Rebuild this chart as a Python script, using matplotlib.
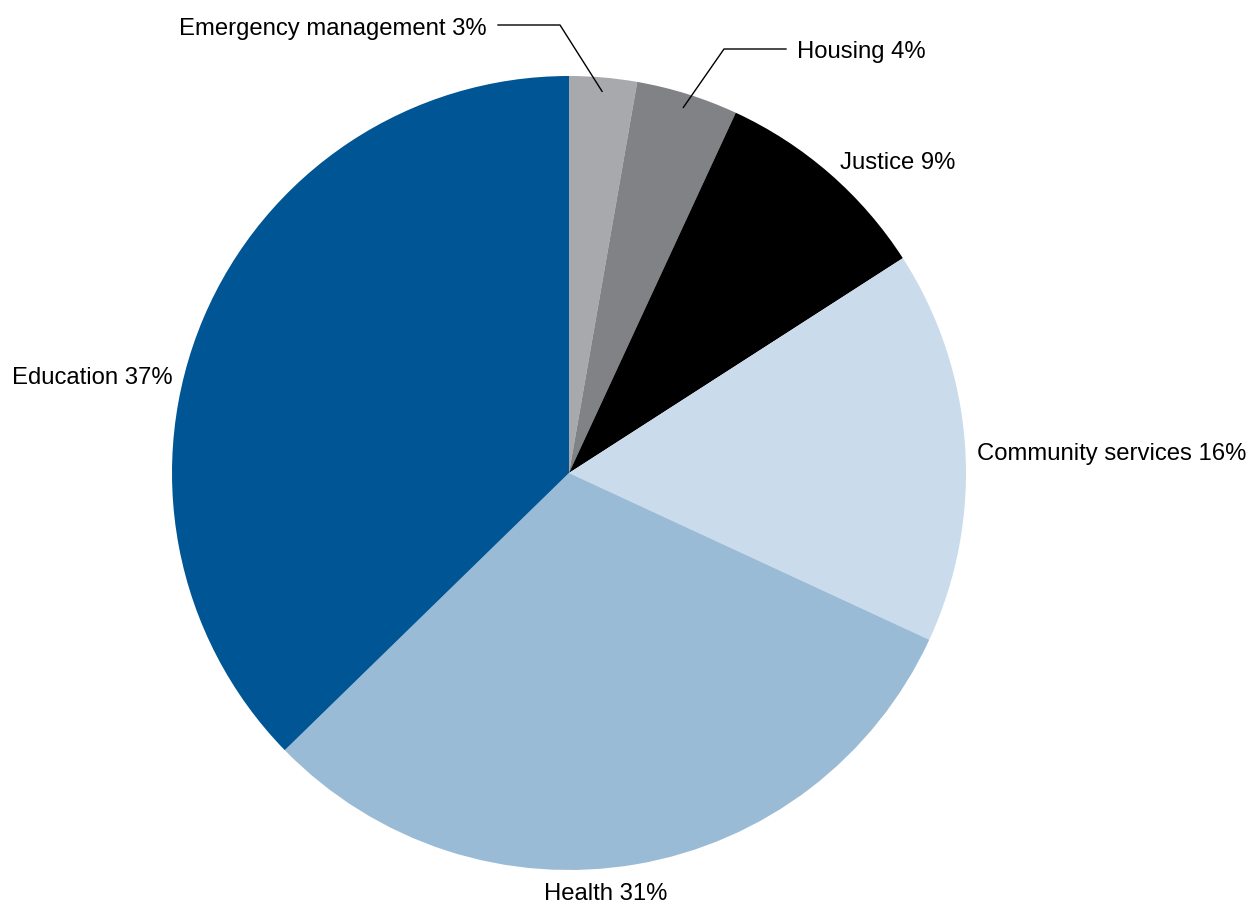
import numpy as np
import matplotlib.pyplot as plt

plt.rcParams['font.family'] = ['Liberation Sans', 'DejaVu Sans']

labels = ['Emergency management 3%', 'Housing 4%', 'Justice 9%',
          'Community services 16%', 'Health 31%', 'Education 37%']
values = [2.75, 4.15, 9.0, 16.0, 30.8, 37.3]
colors = ['#a7a9ac', '#808285', '#000000', '#cadceb', '#9abbd6', '#005595']

W, H = 1250, 905
cx, cy, R = 569, H - 473, 397

fig = plt.figure(figsize=(W / 100, H / 100), dpi=100)
ax = fig.add_axes([0, 0, 1, 1])
wedges, _ = ax.pie(values, colors=colors, startangle=90, counterclock=False,
                   center=(cx, cy), radius=R,
                   wedgeprops=dict(linewidth=0))
ax.set_xlim(0, W)
ax.set_ylim(0, H)
ax.set_aspect('equal')
ax.axis('off')

fs = 17.2
# labels placed directly
ax.text(12, H - 378, labels[5], fontsize=fs, ha='left', va='center')
ax.text(544, H - 894, labels[4], fontsize=fs, ha='left', va='center')
ax.text(977, H - 454, labels[3], fontsize=fs, ha='left', va='center')
ax.text(840, H - 163, labels[2], fontsize=fs, ha='left', va='center')

# labels with leader lines
def wedge_point(w, frac=0.965):
    a = np.deg2rad((w.theta1 + w.theta2) / 2)
    return cx + frac * R * np.cos(a), cy + frac * R * np.sin(a)

ax.text(487, H - 29, labels[0], fontsize=fs, ha='right', va='center')
px, py = wedge_point(wedges[0])
ax.plot([498, 560, px], [H - 25, H - 25, py], color='black', lw=1)

ax.text(797, H - 52, labels[1], fontsize=fs, ha='left', va='center')
px, py = wedge_point(wedges[1])
ax.plot([786, 724, px], [H - 49, H - 49, py], color='black', lw=1)

fig.savefig('out.png', dpi=100)
